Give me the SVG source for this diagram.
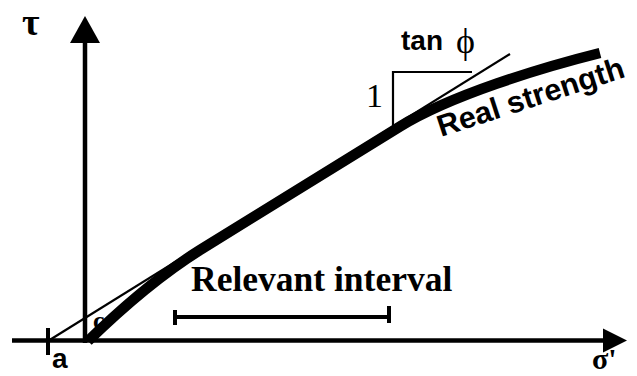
<svg xmlns="http://www.w3.org/2000/svg" width="637" height="376" viewBox="0 0 637 376">
  <defs>
    <style>
      .ax { stroke: #000; stroke-width: 4.5; fill: none; }
      .thin { stroke: #000; stroke-width: 2.2; fill: none; }
      .tick { stroke: #000; stroke-width: 4; fill: none; }
      .head { fill: #000; stroke: none; }
      .sans { font-family: "Liberation Sans", Arial, sans-serif; font-weight: bold; fill: #000; }
      .serif { font-family: "Liberation Serif", "Times New Roman", serif; fill: #000; }
      .bold { font-weight: bold; }
    </style>
  </defs>
  <rect width="637" height="376" fill="#fff"/>

  <g id="labels">
    <text id="tau" class="serif bold" x="22" y="35" font-size="38">τ</text>
    <text id="sigma" class="serif bold" x="592" y="369" font-size="30">σ'</text>
    <text id="a-label" class="sans" x="52" y="368" font-size="28">a</text>
    <text id="c-label" class="serif bold" x="93" y="329" font-size="26">c</text>
    <text id="tan-label" class="sans" x="401" y="50" font-size="28">tan</text>
    <text id="phi-label" class="serif" x="456" y="53" font-size="36">ϕ</text>
    <text id="one-label" class="serif" x="366" y="107" font-size="34">1</text>
    <text id="real-label" class="sans" font-size="30.5" transform="translate(441,137) rotate(-18)">Real strength</text>
    <text id="relevant-label" class="serif bold" x="191" y="291" font-size="35.5">Relevant interval</text>
  </g>

  <g id="connectors">
    <!-- horizontal axis -->
    <line class="ax" x1="12" y1="340.5" x2="605" y2="340.5"/>
    <polygon class="head" points="603,328.5 627,340.5 603,352.5"/>
    <!-- vertical axis -->
    <line class="ax" x1="85" y1="343" x2="85" y2="40"/>
    <polygon class="head" points="70,43 85,16 100,43"/>
    <!-- tick at a -->
    <line class="tick" x1="48" y1="328" x2="48" y2="355"/>
    <!-- tangent line -->
    <line class="thin" x1="48" y1="341" x2="510" y2="54"/>
    <!-- slope triangle -->
    <polyline class="thin" points="393,127 393,72 472,72" stroke-width="3"/>
    <!-- relevant interval -->
    <line class="tick" x1="175" y1="317" x2="389" y2="317" stroke-width="3.5"/>
    <line class="tick" x1="175" y1="310" x2="175" y2="325"/>
    <line class="tick" x1="389" y1="306" x2="389" y2="323"/>
  </g>

  <g id="curve">
    <path d="M88,341 C130,300 165,272 200,250 L400,126.5 C450,95.6 540,68 600,53" fill="none" stroke="#000" stroke-width="10.5"/>
  </g>
</svg>
